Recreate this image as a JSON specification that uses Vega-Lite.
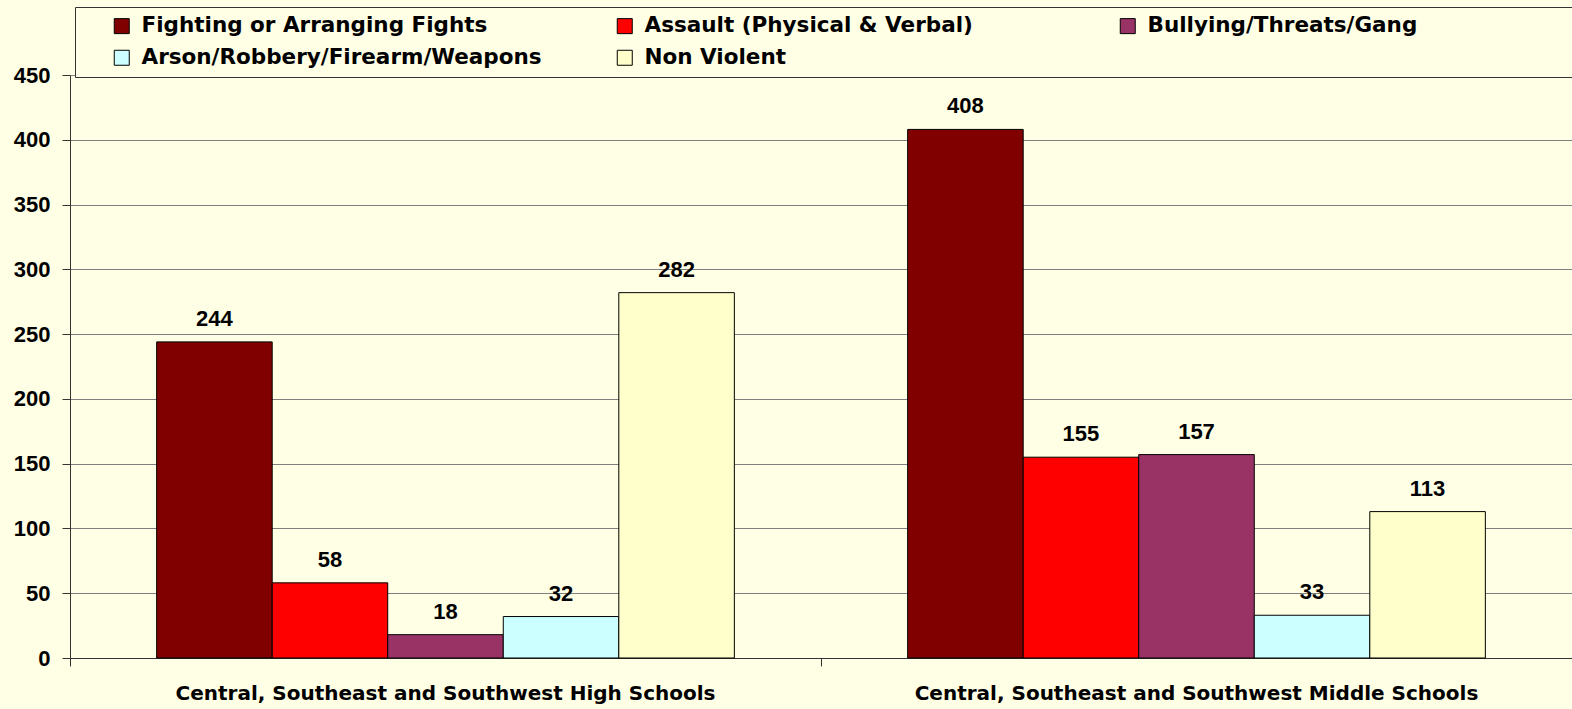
{
  "$schema": "https://vega.github.io/schema/vega-lite/v6.json",
  "autosize": {"type": "none"},
  "width": 1502,
  "height": 583,
  "padding": {"left": 70, "top": 75, "right": 0, "bottom": 51},
  "background": "#FFFFE6",
  "config": {
    "font": "Liberation Sans",
    "view": {"stroke": null},
    "axis": {"labelFont": "Liberation Sans", "labelFontWeight": "bold", "labelColor": "#000000", "domainColor": "#333333", "tickColor": "#333333", "title": null}
  },
  "data": {
    "values": [
      {"school": "Central, Southeast and Southwest High Schools", "category": "Fighting or Arranging Fights", "count": 244},
      {"school": "Central, Southeast and Southwest High Schools", "category": "Assault (Physical & Verbal)", "count": 58},
      {"school": "Central, Southeast and Southwest High Schools", "category": "Bullying/Threats/Gang", "count": 18},
      {"school": "Central, Southeast and Southwest High Schools", "category": "Arson/Robbery/Firearm/Weapons", "count": 32},
      {"school": "Central, Southeast and Southwest High Schools", "category": "Non Violent", "count": 282},
      {"school": "Central, Southeast and Southwest Middle Schools", "category": "Fighting or Arranging Fights", "count": 408},
      {"school": "Central, Southeast and Southwest Middle Schools", "category": "Assault (Physical & Verbal)", "count": 155},
      {"school": "Central, Southeast and Southwest Middle Schools", "category": "Bullying/Threats/Gang", "count": 157},
      {"school": "Central, Southeast and Southwest Middle Schools", "category": "Arson/Robbery/Firearm/Weapons", "count": 33},
      {"school": "Central, Southeast and Southwest Middle Schools", "category": "Non Violent", "count": 113}
    ]
  },
  "encoding": {
    "x": {
      "field": "school", "type": "nominal", "sort": null,
      "scale": {"paddingInner": 0, "paddingOuter": 0},
      "axis": {"bandPosition": 0, "labelAngle": 0, "labelFont": "DejaVu Sans", "labelFontSize": 20, "labelPadding": 17, "tickSize": 8, "labelLimit": 1000, "grid": false}
    },
    "xOffset": {
      "field": "category", "type": "nominal",
      "sort": ["Fighting or Arranging Fights", "Assault (Physical & Verbal)", "Bullying/Threats/Gang", "Arson/Robbery/Firearm/Weapons", "Non Violent"],
      "scale": {"paddingInner": 0, "paddingOuter": 0.75}
    },
    "y": {
      "field": "count", "type": "quantitative",
      "scale": {"domain": [0, 450], "nice": false},
      "axis": {"values": [0, 50, 100, 150, 200, 250, 300, 350, 400, 450], "labelFontSize": 22, "labelPadding": 12, "tickSize": 8, "grid": true, "gridColor": "#7F7F7F", "gridOpacity": 1, "gridWidth": 1}
    }
  },
  "layer": [
    {
      "mark": {"type": "bar", "stroke": "#000000", "strokeWidth": 1},
      "encoding": {
        "color": {
          "field": "category", "type": "nominal",
          "sort": ["Fighting or Arranging Fights", "Assault (Physical & Verbal)", "Bullying/Threats/Gang", "Arson/Robbery/Firearm/Weapons", "Non Violent"],
          "scale": {
            "domain": ["Fighting or Arranging Fights", "Assault (Physical & Verbal)", "Bullying/Threats/Gang", "Arson/Robbery/Firearm/Weapons", "Non Violent"],
            "range": ["#800000", "#FF0000", "#993366", "#CCFFFF", "#FFFFCC"]
          },
          "legend": {
            "orient": "none", "legendX": 5, "legendY": -68,
            "direction": "horizontal", "columns": 3, "gridAlign": "all",
            "title": " ", "titleOrient": "right", "titlePadding": 175, "titleFontSize": 10,
            "symbolType": "square", "symbolSize": 225, "symbolStrokeColor": "#000000", "symbolStrokeWidth": 1, "symbolOpacity": 1, "symbolOffset": 28,
            "labelFont": "DejaVu Sans", "labelFontWeight": "bold", "labelFontSize": 21.5, "labelColor": "#000000", "labelLimit": 2000, "labelOffset": 9,
            "columnPadding": 44, "rowPadding": 9,
            "fillColor": "#FFFFE6", "strokeColor": "#333333", "padding": 8
          }
        }
      }
    },
    {
      "mark": {"type": "text", "fontSize": 22, "fontWeight": "bold", "baseline": "alphabetic", "dy": -16, "color": "#000000"},
      "encoding": {"text": {"field": "count", "type": "quantitative"}}
    }
  ]
}
